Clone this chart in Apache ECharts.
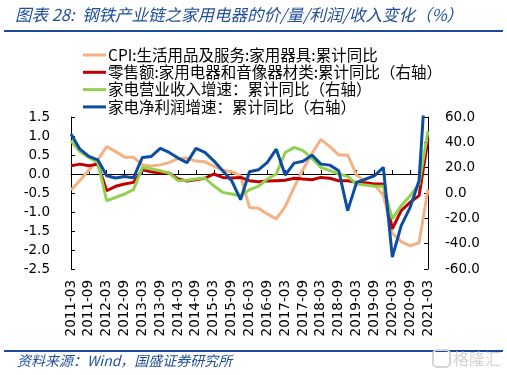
<!DOCTYPE html>
<html><head><meta charset="utf-8">
<script src="https://cdn.jsdelivr.net/npm/echarts@6.0.0/dist/echarts.min.js"></script>
<style>html,body{margin:0;padding:0;background:#fff}#c{width:507px;height:375px}</style>
</head><body><div id="c"></div>
<script>
const categories = [
  '2011-03','2011-06','2011-09','2011-12','2012-03','2012-06','2012-09','2012-12',
  '2013-03','2013-06','2013-09','2013-12','2014-03','2014-06','2014-09','2014-12',
  '2015-03','2015-06','2015-09','2015-12','2016-03','2016-06','2016-09','2016-12',
  '2017-03','2017-06','2017-09','2017-12','2018-03','2018-06','2018-09','2018-12',
  '2019-03','2019-06','2019-09','2019-12','2020-03','2020-06','2020-09','2020-12',
  '2021-03'
];
const leftTicks = [-2.5, 1.5, 0.5];   // min, max, interval
const rightTicks = [-60, 60, 20];     // min, max, interval

const cpiAppliances = [-0.42,-0.17,0.10,0.37,0.72,0.59,0.44,0.44,0.24,0.21,0.24,0.30,0.41,0.42,0.34,0.32,0.21,0.10,0.06,-0.05,-0.88,-0.90,-1.05,-1.18,-0.86,-0.35,0.12,0.54,0.91,0.72,0.50,0.50,-0.03,-0.20,-0.29,-0.55,-1.56,-1.78,-1.89,-1.81,-0.40];
const retailAppliances = [21.5,22.8,21.5,22.8,1.8,5.3,7.1,8.4,18.3,16.8,15.7,15.7,11.0,9.5,10.5,11.6,15.0,12.3,11.8,12.3,9.7,8.9,9.4,9.7,10.0,11.6,11.0,10.5,12.3,11.6,9.7,9.7,8.4,7.9,7.1,7.1,-28.3,-13.9,-7.3,-2.1,42.5];
const revenueGrowth = [41.2,32.5,28.1,24.2,-6.1,-3.4,-0.8,2.6,20.2,18.9,17.6,15.7,9.7,10.0,11.0,11.8,5.7,0.5,-0.8,-2.1,2.6,5.3,11.0,15.0,32.0,36.0,33.5,27.3,20.2,17.6,15.0,13.1,7.1,6.3,5.3,5.3,-20.5,-10.0,-2.1,7.1,49.0];
const profitGrowth = [46.5,34.6,28.9,26.2,13.6,11.8,13.1,12.0,28.1,28.9,35.2,32.0,27.6,24.0,35.2,32.0,25.4,17.6,9.7,-5.3,16.8,18.3,24.2,34.6,14.2,23.6,25.0,29.9,22.8,22.0,17.6,-13.9,8.4,11.0,13.6,20.2,-50.6,-25.7,-11.3,9.7,120];

const names = [
  'CPI:生活用品及服务:家用器具:累计同比',
  '零售额:家用电器和音像器材类:累计同比（右轴）',
  '家电营业收入增速：累计同比（右轴）',
  '家电净利润增速：累计同比（右轴）'
];
const colors = ['#F4B183', '#C00000', '#92D050', '#0B4DA0'];

const cjk = '"Noto Sans CJK SC", sans-serif';
const num = '"DejaVu Sans", sans-serif';
const chart = echarts.init(document.getElementById('c'), null, {renderer: 'canvas'});

const mk = (i, data, yIdx) => ({
  name: names[i], type: 'line', data: data, yAxisIndex: yIdx, xAxisIndex: 0,
  symbol: 'none', lineStyle: {width: 3, color: colors[i]}, itemStyle: {color: colors[i]},
  z: 2 + i, animation: false
});

chart.setOption({
  animation: false,
  backgroundColor: '#fff',
  grid: {left: 71, right: 79, top: 117, bottom: 106, containLabel: false},
  legend: {
    orient: 'vertical', left: 78, top: 42, itemWidth: 23, itemHeight: 3, itemGap: 1.3,
    icon: 'rect', selectedMode: false,
    textStyle: {fontFamily: cjk, fontSize: 15.5, lineHeight: 16, color: '#000', padding: [0,0,0,-3]},
    data: names
  },
  xAxis: [{
    type: 'category', data: categories, boundaryGap: false, position: 'bottom',
    axisLine: {show: false, onZero: false}, axisTick: {show: false},
    axisLabel: {interval: 1, rotate: 90, margin: 11, fontFamily: num, fontSize: 13.5, color: '#000'}
  }, {
    type: 'category', data: categories, boundaryGap: false, position: 'bottom',
    axisLine: {show: true, onZero: true, onZeroAxisIndex: 0, lineStyle: {color: '#000', width: 1}},
    axisTick: {show: true, inside: true, interval: 1, length: 4, lineStyle: {color: '#000'}},
    axisLabel: {show: false}, splitLine: {show: false}
  }],
  yAxis: [{
    type: 'value', position: 'left', min: leftTicks[0], max: leftTicks[1], interval: leftTicks[2],
    axisLine: {show: true, lineStyle: {color: '#000'}},
    axisTick: {show: true, inside: true, length: 4, lineStyle: {color: '#000'}},
    splitLine: {show: false},
    axisLabel: {margin: 21, fontFamily: num, fontSize: 13.5, color: '#000', formatter: v => v.toFixed(1)}
  }, {
    type: 'value', position: 'right', min: rightTicks[0], max: rightTicks[1], interval: rightTicks[2],
    axisLine: {show: true, lineStyle: {color: '#000'}},
    axisTick: {show: true, inside: true, length: 4, lineStyle: {color: '#000'}},
    splitLine: {show: false},
    axisLabel: {margin: 17, fontFamily: num, fontSize: 13.5, color: '#000', formatter: v => v.toFixed(1)}
  }],
  series: [
    mk(0, cpiAppliances, 0),
    mk(1, retailAppliances, 1),
    mk(2, revenueGrowth, 1),
    mk(3, profitGrowth, 1)
  ],
  graphic: [
    {type: 'text', x: 15, y: 15, style: {text: '图表 28:  钢铁产业链之家用电器的价/量/利润/收入变化（%）',
      fontFamily: cjk, fontSize: 16.5, fontStyle: 'italic', fill: '#1F4E9A', verticalAlign: 'middle'}},
    {type: 'rect', shape: {x: 4, y: 30, width: 499, height: 2}, style: {fill: '#1A4A9A'}},
    {type: 'rect', shape: {x: 4, y: 350, width: 499, height: 2}, style: {fill: '#1A4A9A'}},
    {type: 'text', x: 17, y: 361, style: {text: '资料来源：Wind，国盛证券研究所',
      fontFamily: cjk, fontSize: 14, fontStyle: 'italic', fill: '#1F4E9A', verticalAlign: 'middle'}},
    {type: 'rect', shape: {x: 433, y: 350, width: 17, height: 17, r: 4}, style: {fill: 'none', stroke: '#d4d4d4', lineWidth: 2}},
    {type: 'text', x: 453, y: 359, style: {text: '格隆汇', fontFamily: cjk, fontSize: 16, fill: '#d4d4d4', verticalAlign: 'middle'}}
  ]
});
</script></body></html>
